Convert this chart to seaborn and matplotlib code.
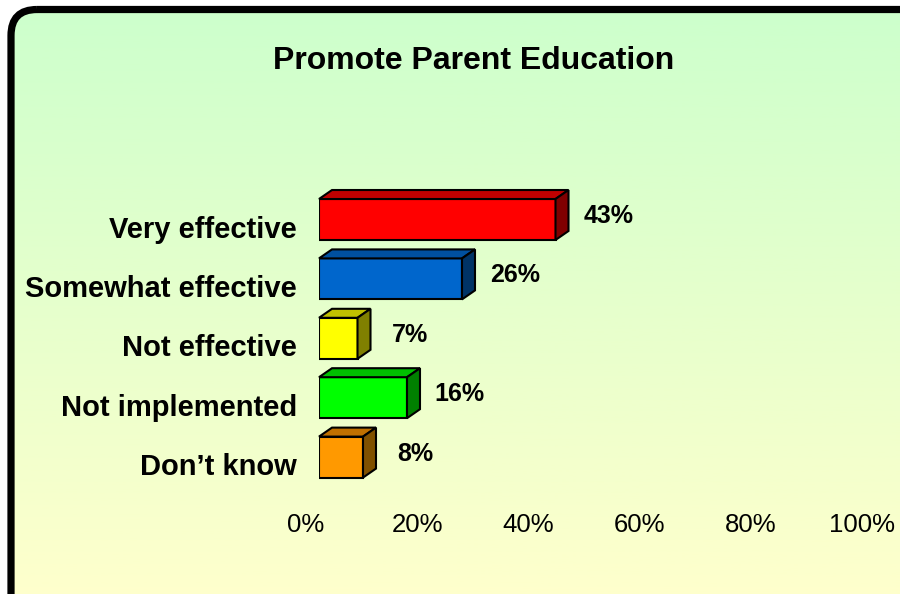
import numpy as np
import matplotlib
matplotlib.use('Agg')
import matplotlib.pyplot as plt
import matplotlib.patches as mpatches
from matplotlib.colors import LinearSegmentedColormap
from matplotlib.transforms import ScaledTranslation
import seaborn as sns

sns.set_style('white')
plt.rcParams['font.family'] = ['Liberation Sans', 'DejaVu Sans']
plt.rcParams['text.color'] = 'black'
plt.rcParams['xtick.color'] = 'black'
plt.rcParams['ytick.color'] = 'black'

# ── Data ──────────────────────────────────────────────────
categories = ['Very effective', 'Somewhat effective', 'Not effective',
              'Not implemented', 'Don\u2019t know']
values     = [43, 26, 7, 16, 8]
ticks      = [0, 20, 40, 60, 80, 100]
tick_labels = [f'{t}%' for t in ticks]

FRONT = ['#FF0000', '#0066CC', '#FFFF00', '#00FF00', '#FF9900']
TOP   = ['#C00000', '#0050A0', '#C0C000', '#00C000', '#C07000']
SIDE  = ['#800000', '#003366', '#808000', '#008000', '#805000']

W, H = 900, 594
fig = plt.figure(figsize=(W / 100, H / 100), dpi=100)
fig.patch.set_facecolor('white')

# ── Background: rounded frame with green→yellow gradient ──
bg = fig.add_axes([0, 0, 1, 1])
bg.set_xlim(0, W)
bg.set_ylim(H, 0)
bg.axis('off')
frame = mpatches.FancyBboxPatch((11, 9.5), 930, 620,
                                boxstyle='round,pad=0,rounding_size=26',
                                facecolor='none', edgecolor='black',
                                linewidth=5.2, zorder=3)
bg.add_patch(frame)
cmap = LinearSegmentedColormap.from_list('bg', ['#CCFFCC', '#FFFFCC'])
grad = np.linspace(0, 1, 256).reshape(-1, 1)
im = bg.imshow(grad, cmap=cmap, aspect='auto', extent=(0, W, 600, 0),
               origin='upper', zorder=1)
im.set_clip_path(frame)

# ── Bars ──────────────────────────────────────────────────
x0, px_per = 319, 5.5          # 0% position, pixels per percent
row_top, row_h = 189.8, 59.4
ax = fig.add_axes([x0 / W, 1 - (row_top + 5 * row_h) / H,
                   100 * px_per / W, 5 * row_h / H])
ax.patch.set_alpha(0)
sns.barplot(x=values, y=categories, hue=categories, palette=FRONT,
            legend=False, orient='h', width=0.69, edgecolor='black',
            linewidth=1.5, saturation=1, ax=ax)
ax.set_xlim(0, 100)
ax.set_ylim(4.5, -0.5)

# 3D top and side faces
dx = 13 / px_per
dy = 9 / row_h
for p, tc, sc in zip(ax.patches, TOP, SIDE):
    x, y, w, h = p.get_x(), p.get_y(), p.get_width(), p.get_height()
    top = [(x, y), (x + dx, y - dy), (x + w + dx, y - dy), (x + w, y)]
    side = [(x + w, y), (x + w + dx, y - dy), (x + w + dx, y + h - dy), (x + w, y + h)]
    ax.add_patch(mpatches.Polygon(top, closed=True, facecolor=tc,
                                  edgecolor='black', linewidth=1.5, clip_on=False))
    ax.add_patch(mpatches.Polygon(side, closed=True, facecolor=sc,
                                  edgecolor='black', linewidth=1.5, clip_on=False))

for i, v in enumerate(values):
    ax.annotate(f'{v}%', xy=(v, i), xytext=(38, 2.5), textcoords='offset points',
                ha='center', va='center', fontsize=18, fontweight='bold')

ax.set_xticks([])
ax.set_xlabel('')
ax.set_ylabel('')
ax.tick_params(axis='y', length=0, pad=16)
shift_down = ScaledTranslation(0, -7 / 100, fig.dpi_scale_trans)
for lab in ax.get_yticklabels():
    lab.set_fontsize(21)
    lab.set_fontweight('bold')
    lab.set_transform(lab.get_transform() + shift_down)
for s in ax.spines.values():
    s.set_visible(False)

# ── Value axis labels (front edge of the 3D floor) ────────
tx0, tx_per = 306, 5.56
ax2 = fig.add_axes([tx0 / W, 1 - (row_top + 5 * row_h) / H,
                    100 * tx_per / W, 5 * row_h / H])
ax2.patch.set_alpha(0)
ax2.set_xlim(0, 100)
ax2.set_yticks([])
ax2.set_xticks(ticks)
ax2.set_xticklabels(tick_labels, fontsize=18.5)
ax2.tick_params(axis='x', length=0, pad=19)
for s in ax2.spines.values():
    s.set_visible(False)

fig.text(474 / W, 1 - 61 / H, 'Promote Parent Education', ha='center',
         va='center', fontsize=23, fontweight='bold')

plt.savefig('out.png', dpi=100)
plt.close()
